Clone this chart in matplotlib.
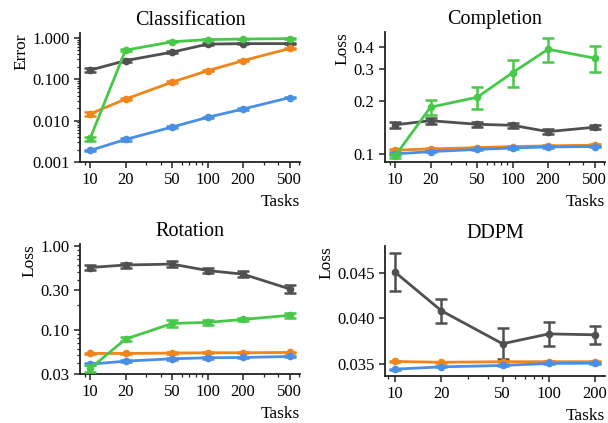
import numpy as np
import matplotlib
matplotlib.use("Agg")
import matplotlib.pyplot as plt
from matplotlib.ticker import FixedLocator, FixedFormatter, NullFormatter, LogLocator

plt.rcParams['font.family'] = ['Liberation Serif', 'DejaVu Serif']
plt.rcParams['mathtext.fontset'] = 'stix'

tasks = [10, 20, 50, 100, 200, 500]
tasks_ddpm = [10, 20, 50, 100, 200]

# Classification (error)
cls_gray = [0.165, 0.28, 0.45, 0.70, 0.72, 0.72]
cls_gray_err = [0.02, 0.02, 0.03, 0.03, 0.03, 0.03]
cls_orange = [0.0145, 0.033, 0.085, 0.16, 0.28, 0.55]
cls_orange_err = [0.0015, 0.002, 0.004, 0.006, 0.01, 0.03]
cls_blue = [0.0019, 0.0035, 0.007, 0.012, 0.019, 0.036]
cls_blue_err = [0.0001, 0.0002, 0.0003, 0.0005, 0.0008, 0.0015]
cls_green = [0.0037, 0.50, 0.80, 0.90, 0.93, 0.95]
cls_green_err = [0.0004, 0.03, 0.03, 0.02, 0.02, 0.02]

# Completion (loss)
cmp_gray = [0.146, 0.154, 0.147, 0.145, 0.1336, 0.1415]
cmp_gray_err = [0.006, 0.006, 0.005, 0.005, 0.004, 0.004]
cmp_orange = [0.105, 0.1067, 0.1085, 0.110, 0.111, 0.112]
cmp_orange_err = [0.001, 0.001, 0.001, 0.001, 0.001, 0.001]
cmp_blue = [0.100, 0.103, 0.106, 0.108, 0.1095, 0.110]
cmp_blue_err = [0.001, 0.001, 0.001, 0.001, 0.001, 0.001]
cmp_green = [0.0974, 0.1836, 0.209, 0.288, 0.390, 0.347]
cmp_green_err = [0.002, 0.018, 0.030, 0.050, 0.060, 0.058]

# Rotation (loss)
rot_gray = [0.56, 0.60, 0.615, 0.515, 0.466, 0.31]
rot_gray_err = [0.04, 0.04, 0.05, 0.04, 0.04, 0.035]
rot_orange = [0.0525, 0.0525, 0.053, 0.0535, 0.0535, 0.054]
rot_orange_err = [0.001, 0.001, 0.001, 0.001, 0.001, 0.001]
rot_blue = [0.039, 0.0425, 0.0453, 0.0466, 0.047, 0.0483]
rot_blue_err = [0.001, 0.001, 0.001, 0.001, 0.001, 0.001]
rot_green = [0.0347, 0.078, 0.120, 0.1235, 0.134, 0.150]
rot_green_err = [0.003, 0.005, 0.012, 0.010, 0.006, 0.012]

# DDPM (loss)
ddpm_gray = [0.04504, 0.04083, 0.03722, 0.0383, 0.0382]
ddpm_gray_err = [0.0021, 0.0013, 0.0017, 0.0013, 0.0010]
ddpm_orange = [0.03529, 0.0352, 0.03526, 0.03526, 0.03526]
ddpm_orange_err = [0.00005, 0.00005, 0.00005, 0.00005, 0.00005]
ddpm_blue = [0.03445, 0.0347, 0.03485, 0.03507, 0.0351]
ddpm_blue_err = [0.00005, 0.00005, 0.00005, 0.00005, 0.00005]

C_GRAY = '#505050'
C_ORANGE = '#f08519'
C_BLUE = '#4a8fe6'
C_GREEN = '#48c848'

fig = plt.figure(figsize=(6.08, 4.23), dpi=100)

def make_ax(l, r, t, b):
    W, H = 608.0, 423.0
    return fig.add_axes([l / W, 1 - b / H, (r - l) / W, (b - t) / H])

axes = [make_ax(80, 300, 33, 162), make_ax(385, 605, 32, 162),
        make_ax(80, 300, 244, 374), make_ax(385, 605, 246, 376)]

def series(ax, x, y, e, c, z):
    ax.errorbar(x, y, yerr=e, color=c, lw=2, marker='o', ms=4.5,
                capsize=4, elinewidth=1.8, capthick=1.8, zorder=z)

def style(ax, title, ylabel, xt, xlim):
    ax.set_xscale('log')
    ax.set_xlim(*xlim)
    ax.xaxis.set_major_locator(FixedLocator(xt))
    ax.xaxis.set_major_formatter(FixedFormatter([str(v) for v in xt]))
    ax.xaxis.set_minor_locator(LogLocator(base=10, subs=np.arange(2, 10)))
    ax.xaxis.set_minor_formatter(NullFormatter())
    for s in ['top', 'right']:
        ax.spines[s].set_visible(False)
    for s in ['left', 'bottom']:
        ax.spines[s].set_linewidth(1.3)
        ax.spines[s].set_color('#222222')
    ax.tick_params(which='major', length=4, width=1.1, labelsize=12, color='#222222')
    ax.tick_params(which='minor', length=2.5, width=0.9, color='#222222')
    ax.set_title(title, fontsize=14.5, pad=6)
    ax.set_ylabel(ylabel, fontsize=12.5, loc='top', labelpad=2)
    ax.set_xlabel('Tasks', fontsize=12.5, loc='right', labelpad=4)

# Classification
ax = axes[0]
series(ax, tasks, cls_gray, cls_gray_err, C_GRAY, 2)
series(ax, tasks, cls_orange, cls_orange_err, C_ORANGE, 3)
series(ax, tasks, cls_blue, cls_blue_err, C_BLUE, 4)
series(ax, tasks, cls_green, cls_green_err, C_GREEN, 5)
ax.set_yscale('log')
ax.set_ylim(0.001, 1.3)
ax.yaxis.set_major_locator(FixedLocator([0.001, 0.01, 0.1, 1.0]))
ax.yaxis.set_major_formatter(FixedFormatter(['0.001', '0.010', '0.100', '1.000']))
ax.yaxis.set_minor_formatter(NullFormatter())
style(ax, 'Classification', 'Error', tasks, (8.2, 610))

# Completion
ax = axes[1]
series(ax, tasks, cmp_gray, cmp_gray_err, C_GRAY, 2)
series(ax, tasks, cmp_orange, cmp_orange_err, C_ORANGE, 3)
series(ax, tasks, cmp_blue, cmp_blue_err, C_BLUE, 4)
series(ax, tasks, cmp_green, cmp_green_err, C_GREEN, 5)
ax.set_yscale('log')
ax.set_ylim(0.090, 0.488)
ax.yaxis.set_major_locator(FixedLocator([0.1, 0.2, 0.3, 0.4]))
ax.yaxis.set_major_formatter(FixedFormatter(['0.1', '0.2', '0.3', '0.4']))
ax.yaxis.set_minor_locator(FixedLocator([]))
ax.yaxis.set_minor_formatter(NullFormatter())
style(ax, 'Completion', 'Loss', tasks, (8.2, 610))

# Rotation
ax = axes[2]
series(ax, tasks, rot_gray, rot_gray_err, C_GRAY, 2)
series(ax, tasks, rot_orange, rot_orange_err, C_ORANGE, 3)
series(ax, tasks, rot_blue, rot_blue_err, C_BLUE, 4)
series(ax, tasks, rot_green, rot_green_err, C_GREEN, 5)
ax.set_yscale('log')
ax.set_ylim(0.0298, 1.07)
ax.yaxis.set_major_locator(FixedLocator([0.03, 0.1, 0.3, 1.0]))
ax.yaxis.set_major_formatter(FixedFormatter(['0.03', '0.10', '0.30', '1.00']))
ax.yaxis.set_minor_formatter(NullFormatter())
style(ax, 'Rotation', 'Loss', tasks, (8.2, 610))

# DDPM
ax = axes[3]
series(ax, tasks_ddpm, ddpm_gray, ddpm_gray_err, C_GRAY, 2)
series(ax, tasks_ddpm, ddpm_orange, ddpm_orange_err, C_ORANGE, 3)
series(ax, tasks_ddpm, ddpm_blue, ddpm_blue_err, C_BLUE, 4)
ax.set_ylim(0.0337, 0.0479)
ax.yaxis.set_major_locator(FixedLocator([0.035, 0.040, 0.045]))
ax.yaxis.set_major_formatter(FixedFormatter(['0.035', '0.040', '0.045']))
style(ax, 'DDPM', 'Loss', tasks_ddpm, (8.6, 232))

fig.savefig('out.png', dpi=100)
